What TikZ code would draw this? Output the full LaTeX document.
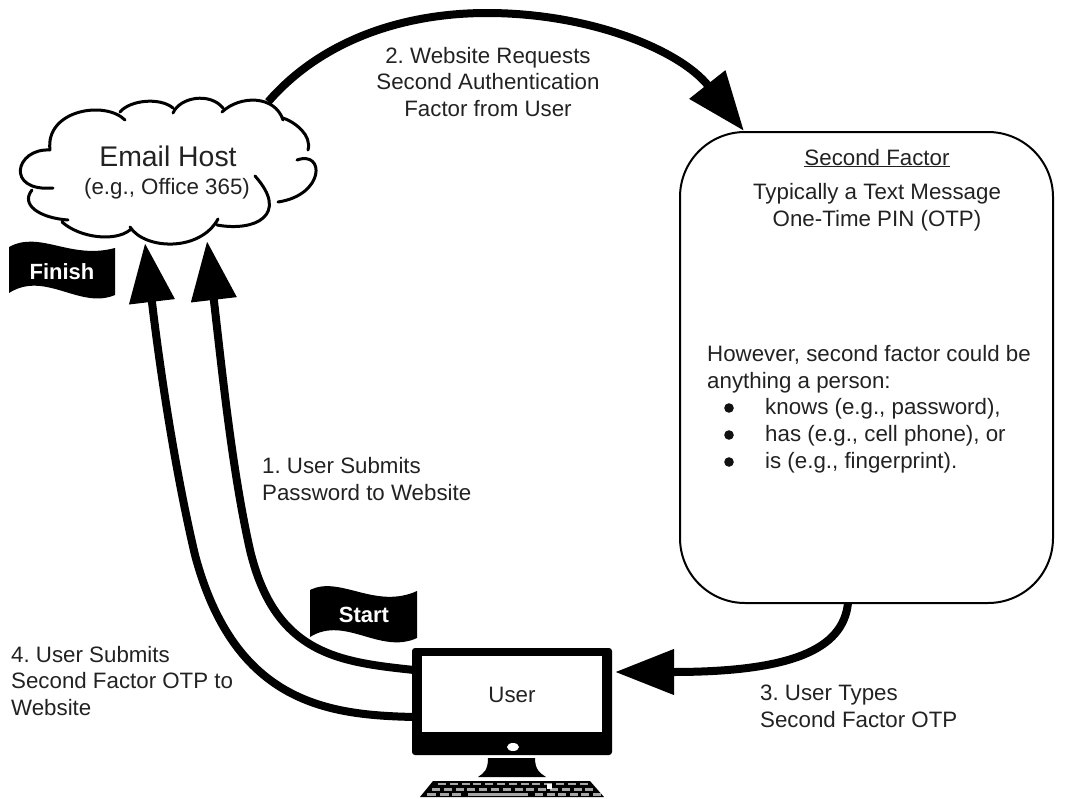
\documentclass[tikz,border=0pt]{standalone}
\usepackage{fontspec}
\setmainfont{Liberation Sans}
\usetikzlibrary{arrows.meta}
\AtBeginDocument{\frenchspacing}
\definecolor{txt}{HTML}{222222}
\tikzset{
  bigarrow/.style={line width=8pt,-{Triangle[length=59pt,width=44pt]},black},
  label/.style={anchor=base west,text=txt,font=\fontsize{22.3}{26.5}\selectfont,align=left,inner sep=0pt},
  clabel/.style={anchor=base,text=txt,font=\fontsize{22.3}{26.5}\selectfont,align=center,inner sep=0pt},
  flagtxt/.style={text=white,font=\fontsize{22}{24}\selectfont\bfseries,inner sep=0pt},
  anchorpt/.style={inner sep=0pt,minimum size=0pt},
  kbkey/.style={fill=gray!70},
}
\begin{document}
\begin{tikzpicture}[x=1pt,y=-1pt]
\useasboundingbox (0,0) rectangle (1068,798);
% connectors end points
\node[anchorpt] (cloudR) at (268,102) {};
\node[anchorpt] (cloudA) at (207,241) {};
\node[anchorpt] (cloudB) at (145,243) {};
\node[anchorpt] (boxTL) at (744,131) {};
\node[anchorpt] (boxB) at (848,603) {};
\node[anchorpt] (userE) at (615,672) {};
\node[anchorpt] (userW1) at (414,670) {};
\node[anchorpt] (userW2) at (414,717) {};
% arrows
\draw[bigarrow] (cloudR) .. controls (320,42) and (400,13) .. (487,13) .. controls (590,13) and (680,50) .. (boxTL);
\draw[bigarrow] (userW1) .. controls (340,662) and (275,655) .. (250,550) .. controls (232,470) and (222,370) .. (cloudA);
\draw[bigarrow] (userW2) .. controls (330,715) and (235,705) .. (195,555) .. controls (175,470) and (160,370) .. (cloudB);
\draw[bigarrow] (boxB) .. controls (843,650) and (790,672) .. (userE);
% cloud
\draw[line width=3pt,line cap=round]
 (50,150) .. controls (15,148) and (5,192) .. (53,188)
 (32,190) .. controls (20,205) and (40,218) .. (68,220)
 (62,222) .. controls (80,238) and (115,242) .. (130,230)
 (130,227) .. controls (145,250) and (200,252) .. (218,219)
 (217,225) .. controls (255,232) and (290,215) .. (255,176)
 (278,202) .. controls (325,195) and (325,150) .. (297,160)
 (308,150) .. controls (312,135) and (295,122) .. (283,118)
 (283,120) .. controls (275,95) and (240,95) .. (222,112)
 (223,108) .. controls (210,92) and (180,97) .. (173,113)
 (173,108) .. controls (160,97) and (130,100) .. (120,112)
 (125,120) .. controls (105,100) and (45,110) .. (50,150);
\node[anchor=base,text=txt,font=\fontsize{28.4}{30}\selectfont,inner sep=0pt] (host) at (168,166) {Email Host};
\node[anchor=base,text=txt,font=\fontsize{22.3}{26}\selectfont,inner sep=0pt] (hostsub) at (167,194) {(e.g., Office 365)};
% second factor box
\draw[line width=2pt,rounded corners=65pt] (680,132) rectangle (1053,603);
\node[clabel] (sf) at (877,165) {\underline{Second Factor}};
\node[clabel] (sf2) at (877,226) {Typically a Text Message\\One-Time PIN (OTP)};
\node[label] (hw) at (707,388) {However, second factor could be\\anything a person:};
\node[label] (b1) at (765,414) {knows (e.g., password),};
\node[label] (b2) at (765,441) {has (e.g., cell phone), or};
\node[label] (b3) at (765,468) {is (e.g., fingerprint).};
\foreach \y in {408,435,462} \fill[txt!50!black] (729,\y) circle (4.8pt);
% labels
\node[clabel] (l2) at (488,116) {2. Website Requests\\Second Authentication\\Factor from User};
\node[label] (l1) at (262,500) {1. User Submits\\Password to Website};
\node[label] (l4) at (11,715) {4. User Submits\\Second Factor OTP to\\Website};
\node[label] (l3) at (760,727) {3. User Types\\Second Factor OTP};
% flags
\fill (9,247) .. controls (40,230) and (70,260) .. (115,248) -- (115,295) .. controls (80,310) and (45,270) .. (9,293) -- cycle;
\node[flagtxt] (finish) at (62,272) {Finish};
\fill (310,590) .. controls (340,575) and (375,610) .. (417,591) -- (417,638) .. controls (380,655) and (345,615) .. (310,637) -- cycle;
\node[flagtxt] (start) at (364,615) {Start};
% monitor
\fill[rounded corners=3pt] (412,648) rectangle (612,755);
\fill[white] (422,656) rectangle (602,732);
\fill[white] (513,747) ellipse (6pt and 4pt);
\node[text=txt,font=\fontsize{22.3}{24}\selectfont,inner sep=0pt] (user) at (512,695) {User};
\fill (488,758) -- (535,758) .. controls (535,770) and (540,773) .. (546,777) -- (478,777) .. controls (484,773) and (488,770) .. (488,758) -- cycle;
\fill (433,781) -- (590,781) -- (604,797) -- (420,797) -- cycle;
\foreach \x in {0,...,12} \fill[kbkey] ({438+\x*11.8},782.5) rectangle ++(8,2.8);
\foreach \x in {0,...,13} \fill[kbkey] ({432+\x*11.8},788) rectangle ++(8,2.8);
\foreach \x in {0,1,2} \fill[kbkey] ({427+\x*12.5},793.2) rectangle ++(9,2.8);
\fill[kbkey] (468,793.2) rectangle ++(60,2.8);
\foreach \x in {0,...,5} \fill[kbkey] ({535+\x*11.5},793.2) rectangle ++(8,2.8);
\fill[white] (547,784) rectangle ++(5,5);
\end{tikzpicture}
\end{document}
